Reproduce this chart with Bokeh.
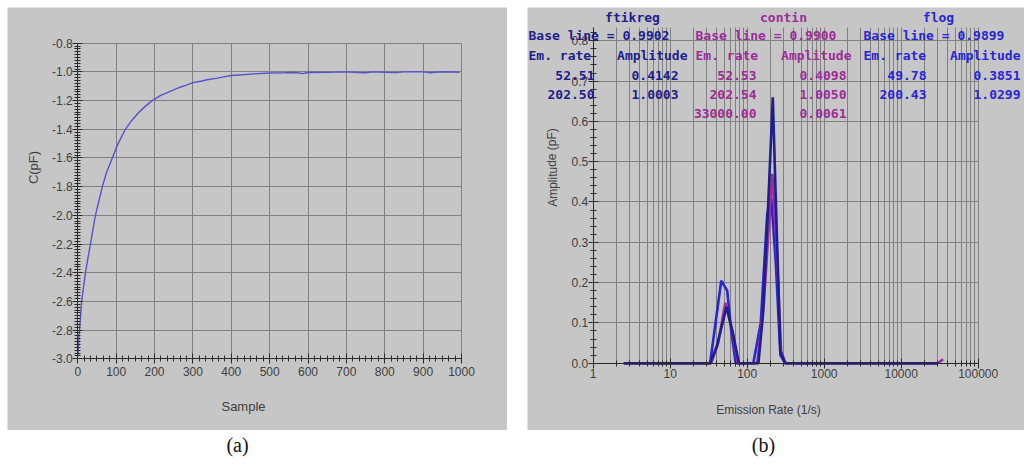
from bokeh.plotting import figure
from bokeh.models import (Label, FixedTicker, SingleIntervalTicker, NumeralTickFormatter, Spacer,
                          LinearAxis, LogAxis, Grid)
from bokeh.layouts import row, column
from bokeh.embed import file_html
from bokeh.resources import INLINE

# ---------------- data: panel (a) ----------------
sample = [0, 2, 5, 10, 15, 20, 27, 33, 40, 46, 55, 64, 75, 90, 105, 124, 140, 160,
          178, 194, 215, 230, 250, 268, 285, 300, 320, 337, 360, 380, 400, 430, 460,
          500, 540, 570, 585, 600, 650, 700, 730, 750, 770, 800, 830, 850, 880, 900,
          920, 930, 960, 995]
cap_pf = [-2.98, -2.9, -2.78, -2.6, -2.5, -2.4, -2.29, -2.2, -2.09, -2.0, -1.9, -1.8,
          -1.7, -1.6, -1.5, -1.4, -1.34, -1.28, -1.235, -1.2, -1.165, -1.148, -1.125,
          -1.105, -1.09, -1.075, -1.065, -1.055, -1.045, -1.035, -1.025, -1.02, -1.014,
          -1.008, -1.006, -1.004, -1.012, -1.004, -1.003, -1.0, -1.004, -1.006, -1.0,
          -1.002, -1.005, -1.0, -0.998, -1.0, -1.006, -1.002, -0.999, -1.003]

# ---------------- data: panel (b) ----------------
ftikreg_rate = [2.5, 33, 40, 54, 66, 78, 140, 160, 190, 215, 240, 270, 310, 30000]
ftikreg_amp = [0.0, 0.0, 0.04, 0.14, 0.07, 0.0, 0.0, 0.12, 0.42, 0.66, 0.35, 0.03, 0.0, 0.0]
contin_rate = [2.5, 34, 42, 52, 64, 76, 135, 165, 200, 212, 240, 275, 315, 30000, 33000, 35000]
contin_amp = [0.0, 0.0, 0.05, 0.15, 0.08, 0.0, 0.0, 0.15, 0.40, 0.47, 0.30, 0.03, 0.0, 0.0, 0.006, 0.01]
flog_rate = [2.5, 33, 46, 55, 62, 71, 120, 150, 182, 205, 235, 270, 310, 30000]
flog_amp = [0.0, 0.0, 0.205, 0.18, 0.08, 0.0, 0.0, 0.10, 0.37, 0.41, 0.25, 0.02, 0.0, 0.0]

methods = ["ftikreg", "contin", "flog"]
baselines = ["0.9902", "0.9900", "0.9899"]
em_rates = [["52.51", "202.50"], ["52.53", "202.54", "33000.00"], ["49.78", "200.43"]]
amplitudes = [["0.4142", "1.0003"], ["0.4098", "1.0050", "0.0061"], ["0.3851", "1.0299"]]
colors = ["#1e1e8c", "#9c2c98", "#2626d4"]

x_decades = [1, 10, 100, 1000, 10000, 100000]
x_minor = [m * d for d in [1, 10, 100, 1000, 10000] for m in range(2, 10)]

GRAY = "#c6c6c6"
GRID = "#808080"
AX = "#2a2a2a"
LBL = "#404040"


def style_axis(ax):
    ax.axis_line_color = AX
    ax.major_tick_line_color = AX
    ax.minor_tick_line_color = AX
    ax.major_tick_in = 5
    ax.major_tick_out = 5
    ax.minor_tick_in = 3
    ax.minor_tick_out = 3
    ax.major_label_text_font = "Liberation Sans"
    ax.major_label_text_font_size = "12px"
    ax.major_label_text_color = LBL


def base_fig(**kw):
    p = figure(output_backend="svg", toolbar_location=None, min_border=0,
               x_axis_location=None, y_axis_location=None, **kw)
    p.background_fill_color = GRAY
    p.border_fill_color = GRAY
    p.outline_line_color = None
    for g in p.grid:
        g.visible = False
    return p


# ---------------- panel (a) ----------------
# whole canvas is the frame; axes sit at fixed data locations
p1 = base_fig(width=500, height=423, x_range=(-183.2, 1119.9), y_range=(-3.4998, -0.551))
xt1 = SingleIntervalTicker(interval=100, num_minor_ticks=6)
yt1 = SingleIntervalTicker(interval=0.2, num_minor_ticks=10)
p1.add_layout(Grid(dimension=0, ticker=xt1, bounds=(0, 1000), cross_bounds=(-3.0, -0.8),
                   grid_line_color=GRID))
p1.add_layout(Grid(dimension=1, ticker=yt1, bounds=(-3.0, -0.8), cross_bounds=(0, 1000),
                   grid_line_color=GRID))
ax1x = LinearAxis(ticker=xt1, fixed_location=-3.0, bounds=(0, 1000), major_label_standoff=3)
ax1y = LinearAxis(ticker=yt1, fixed_location=0, bounds=(-3.0, -0.8),
                  formatter=NumeralTickFormatter(format="0.0"), major_label_standoff=0)
style_axis(ax1x)
style_axis(ax1y)
p1.add_layout(ax1x, "below")
p1.add_layout(ax1y, "left")
p1.line(sample, cap_pf, color="#5454c8", line_width=1.4)

p1.add_layout(Label(x=236, y=24, x_units="screen", y_units="screen", text="Sample",
                    text_font="Liberation Sans", text_font_size="13px", text_color=LBL,
                    text_align="center", text_baseline="middle"))
p1.add_layout(Label(x=26, y=263, x_units="screen", y_units="screen", text="C(pF)",
                    angle=1.5708, text_font="Liberation Sans", text_font_size="13px",
                    text_color=LBL, text_align="center", text_baseline="middle"))

# ---------------- panel (b) ----------------
p2 = base_fig(width=497, height=423, x_axis_type="log", x_range=(0.1402, 399300),
              y_range=(-0.167, 0.8826))
xt2 = FixedTicker(ticks=x_decades, minor_ticks=x_minor)
yt2 = SingleIntervalTicker(interval=0.1, num_minor_ticks=5)
p2.add_layout(Grid(dimension=0, ticker=xt2, bounds=(1, 100000), cross_bounds=(0, 0.833),
                   grid_line_color=GRID, minor_grid_line_color=GRID))
p2.add_layout(Grid(dimension=1, ticker=yt2, bounds=(0, 0.833), cross_bounds=(1, 100000),
                   grid_line_color=GRID))
ax2x = LogAxis(ticker=xt2, fixed_location=0, bounds=(1, 100000),
               formatter=NumeralTickFormatter(format="0"), major_label_standoff=1)
ax2y = LinearAxis(ticker=yt2, fixed_location=1, bounds=(0, 0.833),
                  formatter=NumeralTickFormatter(format="0.0"), major_label_standoff=0)
style_axis(ax2x)
style_axis(ax2y)
p2.add_layout(ax2x, "below")
p2.add_layout(ax2y, "left")

p2.line(flog_rate, flog_amp, color=colors[2], line_width=2.6)
p2.line(contin_rate, contin_amp, color=colors[1], line_width=2.6)
p2.line(ftikreg_rate, ftikreg_amp, color=colors[0], line_width=2.6)

p2.add_layout(Label(x=241, y=21, x_units="screen", y_units="screen", text="Emission Rate (1/s)",
                    text_font="Liberation Sans", text_font_size="12px", text_color=LBL,
                    text_align="center", text_baseline="middle"))
p2.add_layout(Label(x=25, y=263, x_units="screen", y_units="screen", text="Amplitude (pF)",
                    angle=1.5708, text_font="Liberation Sans", text_font_size="12px",
                    text_color=LBL, text_align="center", text_baseline="middle"))

# text table overlay (screen positions inside the panel)
rows_y = [413, 395, 375, 355, 336, 317]
group_left = [1, 168, 336]
title_cx = [105, 256, 411]
em_right = [67, 229, 399]
amp_right = [151, 319, 493]
amp_head_right = [160, 324, 493]
mono = "DejaVu Sans Mono"


def add_txt(x, y, t, c, align):
    p2.add_layout(Label(x=x, y=y, x_units="screen", y_units="screen", text=t,
                        text_font=mono, text_font_size="13px", text_color=c,
                        text_align=align, text_baseline="middle", text_font_style="bold"))


for i in range(3):
    c = colors[i]
    add_txt(title_cx[i], rows_y[0], methods[i], c, "center")
    add_txt(group_left[i], rows_y[1], "Base line = " + baselines[i], c, "left")
    add_txt(group_left[i], rows_y[2], "Em. rate", c, "left")
    add_txt(amp_head_right[i], rows_y[2], "Amplitude", c, "right")
    for k in range(len(em_rates[i])):
        add_txt(em_right[i], rows_y[3 + k], em_rates[i][k], c, "right")
        add_txt(amp_right[i], rows_y[3 + k], amplitudes[i][k], c, "right")

# ---------------- captions ----------------
p3 = figure(width=1024, height=36, x_range=(0, 1), y_range=(0, 1), output_backend="svg",
            toolbar_location=None, x_axis_location=None, y_axis_location=None,
            min_border=0)
p3.outline_line_color = None
p3.grid.visible = False
p3.background_fill_color = "white"
p3.border_fill_color = "white"
p3.add_layout(Label(x=237, y=22, x_units="screen", y_units="screen", text="(a)",
                    text_font="Liberation Serif", text_font_size="20px", text_color="#111111",
                    text_align="center", text_baseline="middle"))
p3.add_layout(Label(x=763, y=22, x_units="screen", y_units="screen", text="(b)",
                    text_font="Liberation Serif", text_font_size="20px", text_color="#111111",
                    text_align="center", text_baseline="middle"))

layout = column(Spacer(width=1024, height=7),
                row(Spacer(width=7, height=423), p1, Spacer(width=20, height=423), p2),
                p3)
open("out.html", "w").write(file_html(layout, INLINE))
